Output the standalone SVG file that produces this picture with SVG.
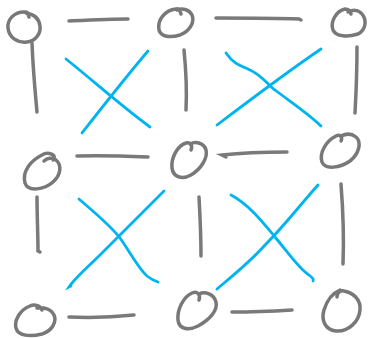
<svg xmlns="http://www.w3.org/2000/svg" width="368" height="338" viewBox="0 0 368 338">
<style>
.n{fill:none;stroke:#787878;stroke-width:3.5;stroke-linecap:round;stroke-linejoin:round}
.g{fill:none;stroke:#7a7a7a;stroke-width:3.5;stroke-linecap:round}
.b{fill:none;stroke:#00b4f0;stroke-width:2.8;stroke-linecap:round}
</style>
<rect width="368" height="338" fill="#ffffff"/>
<g id="connectors">
<path class="g" d="M69,21 C 90,20 110,19 128,19"/>
<path class="g" d="M216,18 C 240,18 275,18 299,19 L301,20"/>
<path class="g" d="M77,156 C 100,155 125,156 148,157"/>
<path class="g" d="M287,152 C 265,152 240,153 222,155 L226,157"/>
<path class="g" d="M69,317 C 90,318 115,317 134,315"/>
<path class="g" d="M232,312 C 250,312 275,311 292,310"/>
<path class="g" d="M32,43 C 33,70 35,90 37,112"/>
<path class="g" d="M37,197 C 37,215 38,235 38,251 L40,252"/>
<path class="g" d="M184,50 C 186,70 187,90 186,110"/>
<path class="g" d="M199,197 C 200,215 201,235 201,256"/>
<path class="g" d="M357,47 C 357,70 356,95 355,113"/>
<path class="g" d="M341,184 C 343,210 344,240 343,264"/>
<path class="b" d="M66,59 C 90,78 120,105 150,127"/>
<path class="b" d="M148,51 C 125,78 100,110 82,133"/>
<path class="b" d="M226,53 C 232,62 238,65 248,69 C 262,75 268,85 275,90 C 295,105 310,115 321,126"/>
<path class="b" d="M321,49 C 290,70 250,100 217,125"/>
<path class="b" d="M79,199 C 95,213 110,225 120,238 C 130,252 138,268 147,276 C 152,280 155,281 158,282"/>
<path class="b" d="M164,191 C 140,215 120,235 100,255 C 88,267 75,278 69,287 L71,286"/>
<path class="b" d="M231,195 C 250,205 265,225 275,237 C 290,255 300,270 309,275 C 313,278 314,280 313,281"/>
<path class="b" d="M318,185 C 300,205 285,225 265,245 C 250,262 230,278 217,289"/>
</g>
<g id="n1"><path class="n" d="M29,17 C 28,14 28,12 26,12 C 14,11 7,20 8,28 C 9,38 18,43 27,42 C 36,41 41,33 40,26 C 39,18 33,14 26,13"/></g>
<g id="n2"><path class="n" d="M181,14 C 180,10 178,8 176,9 C 165,10 157,20 159,30 C 161,37 170,38 180,35 C 190,31 195,22 192,15 C 189,9 182,8 177,10"/></g>
<g id="n3"><path class="n" d="M351,14 C 350,10 348,9 345,9 C 336,11 330,22 333,30 C 336,37 348,37 358,34 C 366,30 367,20 362,14 C 358,9 352,10 348,12"/></g>
<g id="n4"><path class="n" d="M53,160 C 58,155 48,151 42,155 C 30,161 22,172 25,183 C 28,192 44,190 53,182 C 61,175 62,165 56,160 C 52,157 47,158 44,161"/></g>
<g id="n5"><path class="n" d="M191,150 C 193,145 190,142 186,143 C 177,146 171,158 172,168 C 173,177 182,180 191,175 C 201,169 208,158 206,150 C 204,143 196,141 190,144"/></g>
<g id="n6"><path class="n" d="M341,141 C 343,137 340,134 336,136 C 326,141 319,153 322,162 C 325,170 340,168 350,161 C 359,154 362,142 356,137 C 351,133 345,134 341,136"/></g>
<g id="n7"><path class="n" d="M42,310 C 40,305 34,304 30,306 C 20,310 14,320 16,328 C 18,336 30,337 42,334 C 52,331 57,322 54,315 C 51,309 44,307 37,308"/></g>
<g id="n8"><path class="n" d="M199,300 C 201,294 197,291 192,293 C 183,297 177,310 178,320 C 179,329 188,331 198,326 C 209,320 218,311 216,302 C 214,294 205,291 199,294"/></g>
<g id="n9"><path class="n" d="M337,297 C 337,292 341,290 344,291 C 354,293 361,300 360,310 C 359,322 348,332 336,331 C 325,330 321,320 324,310 C 327,300 333,293 340,290"/></g>
</svg>
